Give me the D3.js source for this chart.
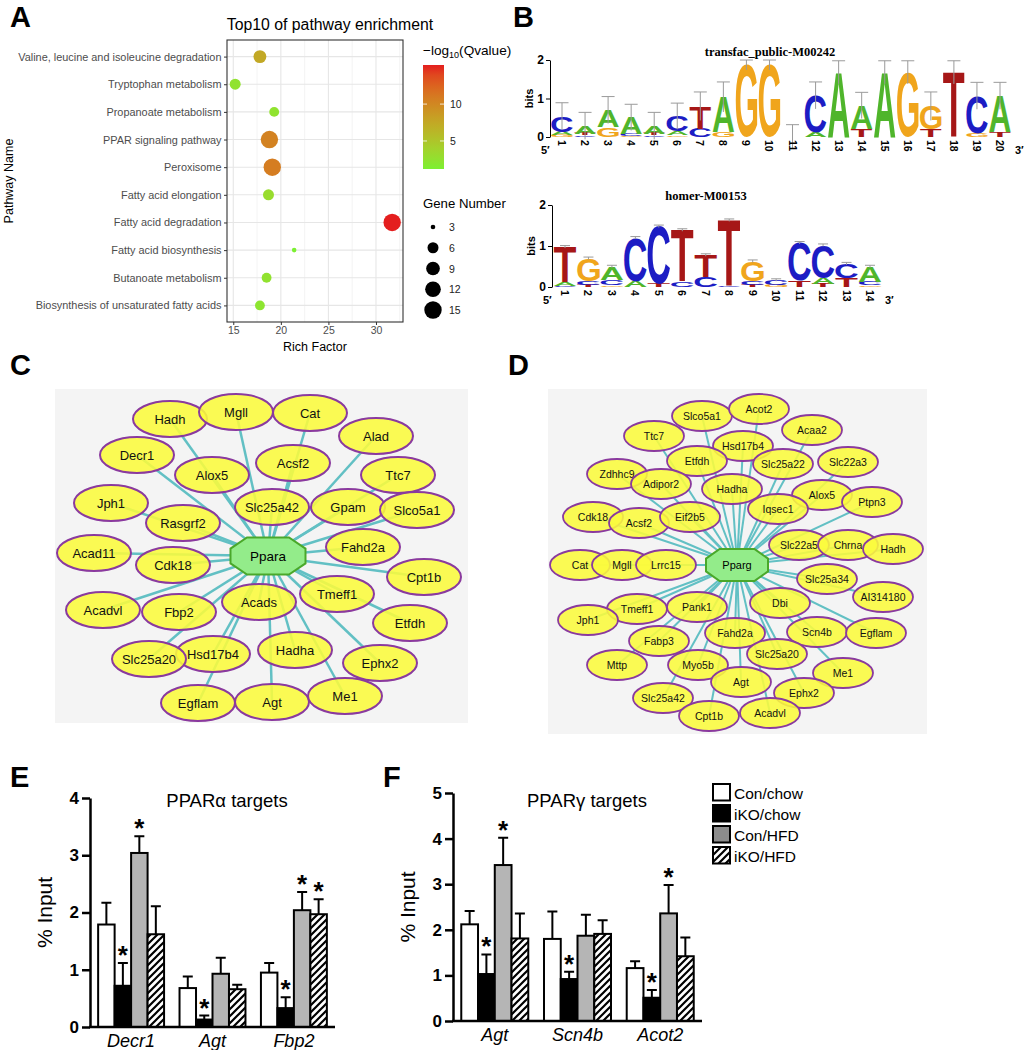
<!DOCTYPE html>
<html>
<head>
<meta charset="utf-8">
<script src="https://cdn.jsdelivr.net/npm/d3@7"></script>
<style>
  body { margin: 0; background: #fff; }
  svg { display: block; font-family: "Liberation Sans", Arial, Helvetica, sans-serif; }
</style>
</head>
<body>
<svg id="fig" width="1025" height="1050"></svg>
<script>
// ---------- data: panel A (pathway enrichment) ----------
const pathways = ["Valine, leucine and isoleucine degradation", "Tryptophan metabolism",
  "Propanoate metabolism", "PPAR signaling pathway", "Peroxisome", "Fatty acid elongation",
  "Fatty acid degradation", "Fatty acid biosynthesis", "Butanoate metabolism",
  "Biosynthesis of unsaturated fatty acids"];
const richFactor = [17.8, 15.2, 19.3, 18.8, 19.1, 18.7, 31.7, 21.4, 18.5, 17.8];
const qLog = [7.5, 2.5, 2.4, 10.4, 10.8, 3.0, 15.3, 1.2, 2.5, 2.2];
const geneNum = [8, 6, 5, 15, 15, 6, 15, 3, 5, 5];
const richTicks = [15, 20, 25, 30];
const qTicks = [5, 10];
const geneTicks = [3, 6, 9, 12, 15];

// ---------- data: panel B (motif logos, stacks bottom -> top, in bits) ----------
const logo1Title = "transfac_public-M00242";
const logo1 = [
  [["G", 0.05], ["A", 0.08], ["C", 0.41]],
  [["C", 0.04], ["T", 0.05], ["A", 0.2]],
  [["G", 0.25], ["A", 0.45]],
  [["G", 0.03], ["C", 0.06], ["A", 0.42]],
  [["C", 0.04], ["T", 0.05], ["A", 0.2]],
  [["G", 0.04], ["A", 0.1], ["C", 0.4]],
  [["C", 0.22], ["T", 0.58]],
  [["G", 0.12], ["A", 0.92]],
  [["G", 1.87]],
  [["G", 1.87]],
  [],
  [["A", 0.12], ["C", 0.96]],
  [["A", 1.68]],
  [["T", 0.2], ["A", 0.62]],
  [["A", 1.68]],
  [["G", 1.68]],
  [["T", 0.2], ["G", 0.6]],
  [["T", 1.68]],
  [["G", 0.1], ["C", 0.97]],
  [["T", 0.12], ["A", 0.95]]
];
const logo1Err = [0.35, 0.35, 0.35, 0.34, 0.35, 0.34, 0.37, 0.39, 0.13, 0.13,
  0.32, 0.35, 0.3, 0.34, 0.3, 0.3, 0.37, 0.3, 0.35, 0.35];
const logo2Title = "homer-M00153";
const logo2 = [
  [["C", 0.03], ["A", 0.1], ["T", 0.85]],
  [["T", 0.05], ["C", 0.1], ["G", 0.55]],
  [["G", 0.04], ["C", 0.14], ["A", 0.32]],
  [["A", 0.14], ["C", 1.06]],
  [["T", 0.08], ["C", 1.4]],
  [["C", 0.14], ["T", 1.25]],
  [["C", 0.24], ["T", 0.54]],
  [["C", 0.03], ["T", 1.6]],
  [["T", 0.05], ["C", 0.1], ["G", 0.48]],
  [["G", 0.05], ["C", 0.12]],
  [["T", 0.15], ["C", 0.93]],
  [["T", 0.08], ["A", 0.14], ["C", 0.8]],
  [["T", 0.22], ["C", 0.35]],
  [["G", 0.04], ["C", 0.08], ["A", 0.38]]
];
const logo2Err = [0.03, 0.03, 0.03, 0.03, 0.03, 0.03, 0.03, 0.03, 0.03, 0.03, 0.03, 0.03, 0.03, 0.03];
const baseColor = { A: "#4fb52b", C: "#1c1cc4", G: "#f0a51c", T: "#a61717" };

// ---------- data: panel C / D networks (layout units) ----------
const hubC = ["Ppara", 213, 167];
const netC = ["Hadh", "Mgll", "Cat", "Alad", "Decr1", "Alox5", "Acsf2", "Ttc7", "Jph1", "Rasgrf2",
  "Slc25a42", "Gpam", "Slco5a1", "Acad11", "Cdk18", "Fahd2a", "Cpt1b", "Tmeff1", "Acads", "Acadvl",
  "Fbp2", "Etfdh", "Hadha", "Hsd17b4", "Slc25a20", "Ephx2", "Egflam", "Agt", "Me1"];
const netCx = [115, 181, 255, 321, 82, 157, 238, 343, 56, 128, 217, 293, 362, 39, 118, 308, 369, 282,
  204, 48, 124, 355, 240, 158, 94, 325, 143, 217, 290];
const netCy = [30, 23, 24, 47, 66, 86, 74, 86, 114, 134, 118, 118, 121, 164, 176, 158, 188, 205,
  213, 221, 223, 234, 261, 265, 270, 274, 314, 313, 307];
const hubD = ["Pparg", 189, 176];
const netD = ["Slco5a1", "Acot2", "Ttc7", "Acaa2", "Hsd17b4", "Etfdh", "Slc25a22", "Slc22a3", "Zdhhc9",
  "Adipor2", "Hadha", "Alox5", "Ptpn3", "Iqsec1", "Cdk18", "Acsf2", "Eif2b5", "Slc22a5", "Chrna", "Hadh",
  "Cat", "Mgll", "Lrrc15", "Slc25a34", "AI314180", "Dbi", "Pank1", "Tmeff1", "Jph1", "Fahd2a", "Scn4b",
  "Egflam", "Fabp3", "Slc25a20", "Mttp", "Myo5b", "Me1", "Agt", "Ephx2", "Slc25a42", "Cpt1b", "Acadvl"];
const netDx = [154, 211, 106, 264, 195, 149, 235, 300, 69, 113, 184, 274, 324, 230, 45, 91, 142, 251,
  300, 345, 32, 74, 118, 279, 335, 232, 149, 89, 40, 187, 269, 328, 111, 229, 69, 150, 295, 193, 256,
  115, 161, 222];
const netDy = [27, 20, 47, 41, 57, 72, 75, 73, 85, 95, 100, 106, 113, 120, 128, 134, 128, 156, 156,
  160, 176, 176, 176, 190, 208, 214, 218, 220, 231, 244, 243, 244, 252, 265, 276, 276, 284, 293, 304,
  309, 327, 324];

// ---------- data: panels E / F (ChIP % input) ----------
const groups = ["Con/chow", "iKO/chow", "Con/HFD", "iKO/HFD"];
const genesE = ["Decr1", "Agt", "Fbp2"];
const meanE = [[1.79, 0.72, 3.04, 1.62], [0.68, 0.13, 0.93, 0.66], [0.95, 0.33, 2.04, 1.97]];
const semE = [[0.38, 0.40, 0.29, 0.49], [0.20, 0.07, 0.28, 0.08], [0.17, 0.19, 0.32, 0.26]];
const starE = [[0, 1, 1, 0], [0, 1, 0, 0], [0, 1, 1, 1]];
const genesF = ["Agt", "Scn4b", "Acot2"];
const meanF = [[2.12, 1.03, 3.42, 1.81], [1.80, 0.92, 1.87, 1.91], [1.16, 0.51, 2.36, 1.42]];
const semF = [[0.29, 0.43, 0.60, 0.55], [0.60, 0.16, 0.46, 0.30], [0.15, 0.17, 0.62, 0.41]];
const starF = [[0, 1, 1, 0], [0, 1, 0, 0], [0, 1, 1, 0]];

// ---------- setup ----------
const svg = d3.select("#fig");
svg.append("rect").attr("width", 1025).attr("height", 1050).attr("fill", "#fff");
const defs = svg.append("defs");

const hatch = defs.append("pattern").attr("id", "hatch")
  .attr("patternUnits", "userSpaceOnUse").attr("width", 7).attr("height", 7);
hatch.append("rect").attr("width", 7).attr("height", 7).attr("fill", "#fff");
hatch.append("path").attr("d", "M-1,1 l2,-2 M0,7 l7,-7 M6,8 l2,-2")
  .attr("stroke", "#000").attr("stroke-width", 2.2);

// panel letters
const letterPos = [["A", 10, 27], ["B", 513, 27], ["C", 10, 375], ["D", 508, 375], ["E", 10, 787], ["F", 383, 787]];
letterPos.forEach(d => svg.append("text").attr("x", d[1]).attr("y", d[2]).text(d[0])
  .attr("font-size", 29).attr("font-weight", "bold"));

// ================= Panel A =================
(function () {
  const g = svg.append("g");
  const x = d3.scaleLinear().domain([14.34, 32.84]).range([227, 403]);
  const y = d3.scalePoint().domain(pathways).range([40, 322]).padding(0.6);
  const color = d3.scaleLinear().domain([1.2, 15.3]).range(["#7cf032", "#e41e1e"]).interpolate(d3.interpolateLab);
  const size = v => 2.3 + 6.4 * Math.sqrt((v - 3) / 12);

  g.append("rect").attr("x", 227).attr("y", 40).attr("width", 176).attr("height", 282).attr("fill", "#fff");
  [17.5, 22.5, 27.5, 32.5].forEach(v => g.append("line").attr("x1", x(v)).attr("x2", x(v))
    .attr("y1", 40).attr("y2", 322).attr("stroke", "#f0f0f0").attr("stroke-width", 0.8));
  richTicks.forEach(v => g.append("line").attr("x1", x(v)).attr("x2", x(v))
    .attr("y1", 40).attr("y2", 322).attr("stroke", "#e6e6e6").attr("stroke-width", 1.1));
  pathways.forEach(p => g.append("line").attr("x1", 227).attr("x2", 403)
    .attr("y1", y(p)).attr("y2", y(p)).attr("stroke", "#e6e6e6").attr("stroke-width", 1.1));

  g.selectAll("circle.pt").data(pathways).join("circle").attr("class", "pt")
    .attr("cx", (d, i) => x(richFactor[i])).attr("cy", d => y(d))
    .attr("r", (d, i) => size(geneNum[i])).attr("fill", (d, i) => color(qLog[i]));

  g.append("rect").attr("x", 227).attr("y", 40).attr("width", 176).attr("height", 282)
    .attr("fill", "none").attr("stroke", "#333").attr("stroke-width", 1.1);

  const ax = g.append("g").attr("transform", "translate(0,322)")
    .call(d3.axisBottom(x).tickValues(richTicks).tickSize(3).tickPadding(2));
  const ay = g.append("g").attr("transform", "translate(227,0)")
    .call(d3.axisLeft(y).tickSize(3).tickPadding(2.5));
  [ax, ay].forEach(a => {
    a.select(".domain").remove();
    a.selectAll(".tick line").attr("stroke", "#333");
    a.selectAll(".tick text").attr("fill", "#4d4d4d").attr("font-family", "Liberation Sans, Arial");
  });
  ax.selectAll(".tick text").attr("font-size", 10.5);
  ay.selectAll(".tick text").attr("font-size", 10.9);

  g.append("text").attr("x", 330).attr("y", 30).attr("text-anchor", "middle")
    .attr("font-size", 15.8).text("Top10 of pathway enrichment");
  g.append("text").attr("x", 315).attr("y", 351).attr("text-anchor", "middle")
    .attr("font-size", 12.5).text("Rich Factor");
  g.append("text").attr("transform", "translate(13,181) rotate(-90)").attr("text-anchor", "middle")
    .attr("font-size", 12.5).text("Pathway Name");

  // color bar
  const grad = defs.append("linearGradient").attr("id", "qgrad")
    .attr("x1", 0).attr("x2", 0).attr("y1", 1).attr("y2", 0);
  d3.range(0, 1.001, 0.1).forEach(t => grad.append("stop").attr("offset", t)
    .attr("stop-color", color(1.2 + t * 14.1)));
  const cb = d3.scaleLinear().domain([1.2, 15.3]).range([169, 65]);
  g.append("rect").attr("x", 423).attr("y", 65).attr("width", 21).attr("height", 104).attr("fill", "url(#qgrad)");
  qTicks.forEach(v => {
    g.append("line").attr("x1", 423).attr("x2", 427).attr("y1", cb(v)).attr("y2", cb(v)).attr("stroke", "#fff").attr("stroke-width", 0.8);
    g.append("line").attr("x1", 440).attr("x2", 444).attr("y1", cb(v)).attr("y2", cb(v)).attr("stroke", "#fff").attr("stroke-width", 0.8);
    g.append("text").attr("x", 450).attr("y", cb(v) + 4).attr("font-size", 10.5).attr("fill", "#222").text(v);
  });
  const lt = g.append("text").attr("x", 423).attr("y", 55).attr("font-size", 13.6);
  lt.append("tspan").text("\u2212log");
  lt.append("tspan").attr("font-size", 9).attr("dy", 3).text("10");
  lt.append("tspan").attr("dy", -3).text("(Qvalue)");

  g.append("text").attr("x", 423).attr("y", 208).attr("font-size", 13.2).text("Gene Number");
  const sy = d3.scalePoint().domain(geneTicks).range([227, 310]);
  geneTicks.forEach(v => {
    g.append("circle").attr("cx", 433).attr("cy", sy(v)).attr("r", size(v)).attr("fill", "#000");
    g.append("text").attr("x", 449).attr("y", sy(v) + 4).attr("font-size", 10.5).attr("fill", "#222").text(v);
  });
})();

// ================= Panel B =================
const ctx = document.createElement("canvas").getContext("2d");
ctx.font = "bold 100px 'Liberation Sans'";
const glyph = {};
"ACGT".split("").forEach(ch => {
  const m = ctx.measureText(ch);
  glyph[ch] = { l: m.actualBoundingBoxLeft, r: m.actualBoundingBoxRight, a: m.actualBoundingBoxAscent, d: m.actualBoundingBoxDescent };
});

function drawLogo(stacks, errs, title, cfg) {
  const g = svg.append("g");
  const n = stacks.length;
  const x = d3.scaleLinear().domain([1, n]).range([cfg.x1, cfg.xn]);
  const y = d3.scaleLinear().domain([0, 2]).range([cfg.y0, cfg.y2]);
  stacks.forEach((st, i) => {
    let base = 0;
    st.forEach(([ch, h]) => {
      const hp = y(base) - y(base + h);
      const bottom = y(base);
      base += h;
      if (hp < 0.4) return;
      const gl = glyph[ch];
      g.append("text").text(ch).attr("font-family", "Liberation Sans").attr("font-weight", "bold")
        .attr("font-size", 100).attr("fill", baseColor[ch])
        .attr("transform", `translate(${x(i + 1) - cfg.lw / 2},${bottom}) scale(${cfg.lw / (gl.l + gl.r)},${hp / (gl.a + gl.d)}) translate(${gl.l},${-gl.d})`);
    });
    const e = errs[i];
    const cx = x(i + 1);
    g.append("path").attr("d", `M${cx},${y(Math.max(base - e, -0.3))}V${y(base + e)}M${cx - cfg.cap / 2},${y(base + e)}H${cx + cfg.cap / 2}`)
      .attr("stroke", "#9a9a9a").attr("stroke-width", 1).attr("fill", "none");
    g.append("text").attr("transform", `translate(${cx},${cfg.y0 + 3}) rotate(90)`)
      .attr("dominant-baseline", "central").attr("font-size", 10.5).attr("font-weight", "bold").text(i + 1);
  });
  const ay = g.append("g").attr("transform", `translate(${cfg.ax},0)`)
    .call(d3.axisLeft(y).tickValues([0, 1, 2]).tickFormat(d3.format("d")).tickSize(4).tickSizeOuter(0).tickPadding(2));
  ay.selectAll("text").attr("font-size", 12).attr("font-weight", "bold").attr("font-family", "Liberation Sans");
  ay.select(".domain").attr("stroke-width", 1);
  g.append("text").attr("transform", `translate(${cfg.ax - 17},${(cfg.y0 + cfg.y2) / 2}) rotate(-90)`)
    .attr("text-anchor", "middle").attr("font-size", 11).attr("font-weight", "bold").text("bits");
  g.append("text").attr("x", cfg.ax - 9).attr("y", cfg.y0 + 17).attr("font-size", 11).attr("font-weight", "bold").text("5\u2032");
  g.append("text").attr("x", cfg.end).attr("y", cfg.y0 + 17).attr("font-size", 11).attr("font-weight", "bold").text("3\u2032");
  g.append("text").attr("x", cfg.tx).attr("y", cfg.ty).attr("text-anchor", "middle")
    .attr("font-family", "Liberation Serif, Times New Roman, serif").attr("font-weight", "bold")
    .attr("font-size", 12.5).text(title);
}
drawLogo(logo1, logo1Err, logo1Title, { x1: 562, xn: 1000, y0: 137, y2: 60, lw: 21.5, cap: 13, ax: 550, end: 1015, tx: 770, ty: 56 });
drawLogo(logo2, logo2Err, logo2Title, { x1: 565, xn: 870, y0: 287, y2: 205, lw: 22.5, cap: 10, ax: 552, end: 885, tx: 706, ty: 200 });

// ================= Panels C / D =================
function octagon(cx, cy, w, h) {
  const a = w / 2, b = h / 2, t = 0.56 * a, s = 0.4 * b;
  return [[-t, -b], [t, -b], [a, -s], [a, s], [t, b], [-t, b], [-a, s], [-a, -s]]
    .map(p => [cx + p[0], cy + p[1]].join(",")).join(" ");
}
function drawNet(hub, names, lx, ly, cfg) {
  const g = svg.append("g");
  const x = d3.scaleLinear().domain([0, cfg.w]).range([cfg.x0, cfg.x0 + cfg.w]);
  const y = d3.scaleLinear().domain([0, cfg.h]).range([cfg.y0, cfg.y0 + cfg.h]);
  g.append("rect").attr("x", cfg.x0).attr("y", cfg.y0).attr("width", cfg.w).attr("height", cfg.h).attr("fill", "#f4f4f4");
  names.forEach((nm, i) => g.append("line").attr("x1", x(hub[1])).attr("y1", y(hub[2]))
    .attr("x2", x(lx[i])).attr("y2", y(ly[i])).attr("stroke", "#62c0c4").attr("stroke-width", cfg.ew));
  names.forEach((nm, i) => {
    g.append("ellipse").attr("cx", x(lx[i])).attr("cy", y(ly[i])).attr("rx", cfg.rx).attr("ry", cfg.ry)
      .attr("fill", "#fbfa3c").attr("fill-opacity", 0.88).attr("stroke", "#8a3a9e").attr("stroke-width", cfg.sw);
    g.append("text").attr("x", x(lx[i])).attr("y", y(ly[i])).attr("text-anchor", "middle")
      .attr("dominant-baseline", "central").attr("font-size", cfg.fs).attr("fill", "#111").text(nm);
  });
  g.append("polygon").attr("points", octagon(x(hub[1]), y(hub[2]), cfg.hw, cfg.hh))
    .attr("fill", "#93ec8a").attr("stroke", "#4aa82a").attr("stroke-width", 2);
  g.append("text").attr("x", x(hub[1])).attr("y", y(hub[2])).attr("text-anchor", "middle")
    .attr("dominant-baseline", "central").attr("font-size", cfg.fs + 0.5).text(hub[0]);
}
drawNet(hubC, netC, netCx, netCy, { x0: 55, y0: 389, w: 413, h: 334, rx: 37, ry: 18, sw: 2, ew: 2.5, fs: 13, hw: 75, hh: 37 });
drawNet(hubD, netD, netDx, netDy, { x0: 548, y0: 389, w: 379, h: 345, rx: 30, ry: 15, sw: 1.8, ew: 2, fs: 10.5, hw: 62, hh: 32 });

// ================= Panels E / F =================
const fills = ["#fff", "#000", "#b5b5b5", "url(#hatch)"];
function drawBars(genes, means, sems, stars, title, cfg) {
  const g = svg.append("g");
  const x = d3.scaleBand().domain(genes).range([cfg.ax, cfg.xr]).paddingInner(0.19).paddingOuter(0.1);
  const xs = d3.scaleBand().domain(groups).range([0, x.bandwidth()]);
  const y = d3.scaleLinear().domain([0, cfg.max]).range([cfg.y0, cfg.ytop]);
  genes.forEach((gn, gi) => {
    groups.forEach((gr, k) => {
      const bx = x(gn) + xs(gr), bw = xs.bandwidth(), cx = bx + bw / 2;
      const top = y(means[gi][k] + sems[gi][k]);
      g.append("path").attr("d", `M${cx},${y(means[gi][k])}V${top}M${cx - 5},${top}H${cx + 5}`)
        .attr("stroke", "#000").attr("stroke-width", 2).attr("fill", "none");
      g.append("rect").attr("x", bx).attr("y", y(means[gi][k])).attr("width", bw)
        .attr("height", cfg.y0 - y(means[gi][k])).attr("fill", fills[k]).attr("stroke", "#000").attr("stroke-width", 2);
      if (stars[gi][k]) g.append("text").attr("x", cx).attr("y", top + 1).attr("text-anchor", "middle")
        .attr("font-size", 26).attr("font-weight", "bold").text("*");
    });
    g.append("text").attr("x", x(gn) + x.bandwidth() / 2).attr("y", cfg.y0 + 20).attr("text-anchor", "middle")
      .attr("font-size", 18).attr("font-style", "italic").text(gn);
  });
  const ay = g.append("g").attr("transform", `translate(${cfg.ax},0)`)
    .call(d3.axisLeft(y).ticks(cfg.max).tickFormat(d3.format("d")).tickSize(8).tickSizeOuter(0).tickPadding(3));
  ay.select(".domain").attr("stroke-width", 2.5);
  ay.selectAll(".tick line").attr("stroke-width", 2.5);
  ay.selectAll(".tick text").attr("font-size", 17).attr("font-weight", "bold").attr("font-family", "Liberation Sans");
  g.append("line").attr("x1", cfg.ax - 1).attr("x2", cfg.xr).attr("y1", cfg.y0).attr("y2", cfg.y0)
    .attr("stroke", "#000").attr("stroke-width", 2.5);
  g.append("text").attr("transform", `translate(${cfg.ax - 38},${(cfg.y0 + cfg.ytop) / 2}) rotate(-90)`)
    .attr("text-anchor", "middle").attr("font-size", 21).text("% Input");
  g.append("text").attr("x", cfg.tx).attr("y", 807).attr("text-anchor", "middle").attr("font-size", 18.5).text(title);
}
drawBars(genesE, meanE, semE, starE, "PPAR\u03b1 targets", { ax: 90, xr: 335, y0: 1027, ytop: 798, max: 4, tx: 227 });
drawBars(genesF, meanF, semF, starF, "PPAR\u03b3 targets", { ax: 453, xr: 702, y0: 1021, ytop: 793, max: 5, tx: 587 });

// legend
const legendFills = ["#fff", "#000", "#8c8c8c", "url(#hatch)"];
const ly = d3.scalePoint().domain(groups).range([784, 847]);
groups.forEach((gr, k) => {
  svg.append("rect").attr("x", 713).attr("y", ly(gr)).attr("width", 17).attr("height", 16.5)
    .attr("fill", legendFills[k]).attr("stroke", "#000").attr("stroke-width", 2);
  svg.append("text").attr("x", 734).attr("y", ly(gr) + 14.5).attr("font-size", 15.5).text(gr);
});
</script>
</body>
</html>
